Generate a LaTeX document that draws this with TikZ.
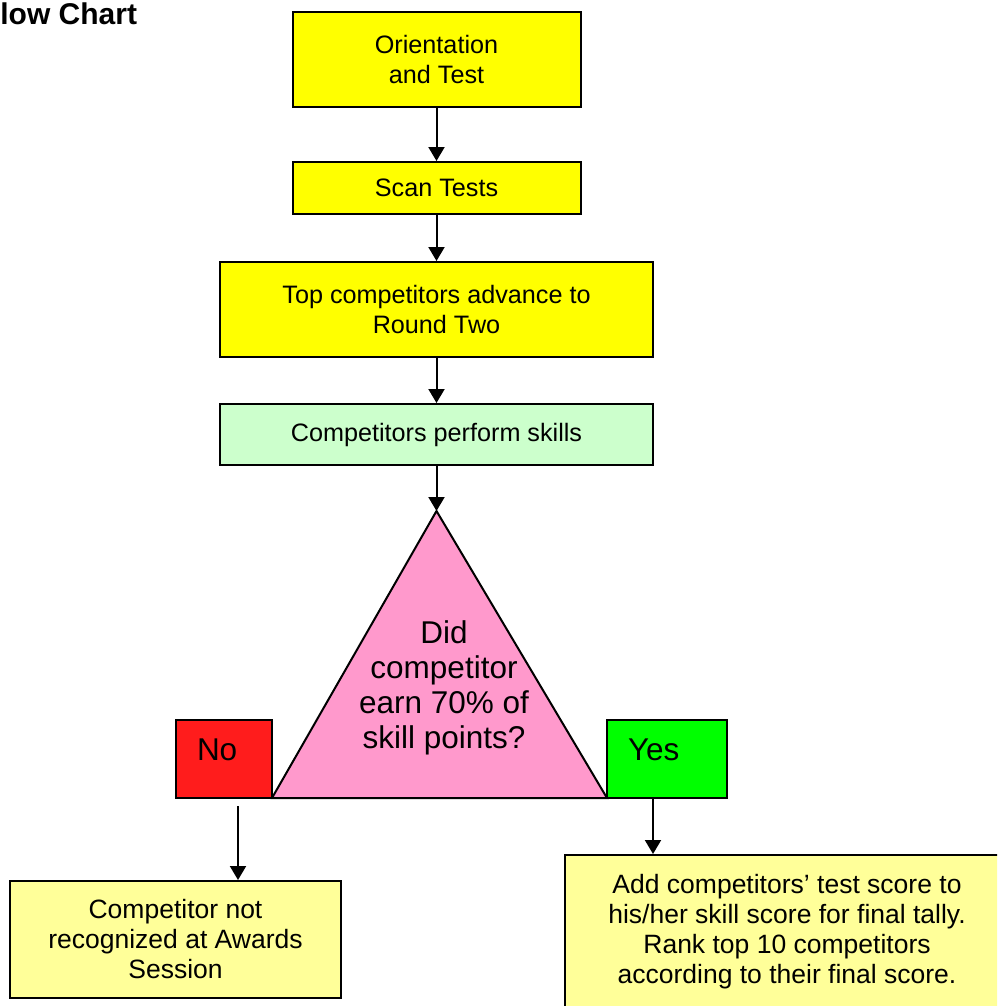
\documentclass[tikz,border=0pt]{standalone}
\usepackage{fontspec}
\setmainfont{Liberation Sans}
\usetikzlibrary{arrows.meta,positioning}
\definecolor{stepyellow}{RGB}{255,255,0}
\definecolor{skillgreen}{RGB}{204,255,204}
\definecolor{askpink}{RGB}{255,153,204}
\definecolor{nored}{RGB}{255,28,28}
\definecolor{yesgreen}{RGB}{0,255,0}
\definecolor{tallyyellow}{RGB}{255,255,153}
\tikzstyle{stepbox}=[draw=black,line width=1pt,rectangle,align=center,inner sep=2pt,font=\fontsize{12.6pt}{15pt}\selectfont]
\tikzstyle{answerbox}=[draw=black,line width=1pt,rectangle,align=left,inner xsep=10.5pt,inner ysep=2pt,text height=18.25pt,text depth=16.75pt,font=\fontsize{15.75pt}{17.5pt}\selectfont]
\tikzstyle{tallybox}=[draw=black,line width=1pt,rectangle,align=center,fill=tallyyellow,font=\fontsize{13.25pt}{15pt}\selectfont]

\begin{document}
\begin{tikzpicture}[x=0.5pt,y=-0.5pt,on grid,>={Triangle[width=8pt,length=7pt]}]
	\useasboundingbox (0,0) rectangle (997,1006);
	\clip (0,0) rectangle (997,1006);

	\node[anchor=base west,inner sep=0pt,font=\fontsize{15pt}{18pt}\selectfont\bfseries] (title) at (0,25) {low Chart};

	\node[stepbox,fill=stepyellow,minimum width=144pt,minimum height=47.5pt] (orient) at (436.5,59.5) {Orientation\\and Test};
	\node[stepbox,fill=stepyellow,minimum width=144pt,minimum height=26pt] (scan) [below=64.25pt of orient] {Scan Tests};
	\node[stepbox,fill=stepyellow,minimum width=216.5pt,minimum height=47.5pt] (advance) [below=60.75pt of scan] {Top competitors advance to\\Round Two};
	\node[stepbox,fill=skillgreen,minimum width=216.5pt,minimum height=30.5pt] (skills) [below=62.5pt of advance] {Competitors perform skills};

	% decision triangle
	\coordinate (apex) at (436.5,511);
	\draw[line width=1pt,fill=askpink] (apex) -- (607,798) -- (272,798) -- cycle;
	\node[align=center,font=\fontsize{15.75pt}{17.6pt}\selectfont] (ask) at (444,688) {Did\\competitor\\earn 70\% of\\skill points?};

	\node[answerbox,fill=nored,text width=27pt] (no) at (224,759) {No};
	\node[answerbox,fill=yesgreen,text width=39pt] (yes) at (667,759) {Yes};

	\node[tallybox,minimum width=165.5pt,minimum height=58.5pt] (notally) at (175.5,939.5) {Competitor not\\recognized at Awards\\Session};
	\node[tallybox,minimum width=222pt,minimum height=76.5pt] (yestally) at (787,931.5) {Add competitors’ test score to\\his/her skill score for final tally.\\Rank top 10 competitors\\according to their final score.};

	\coordinate (nofoot) at (238,806);
	\coordinate (yesfoot) at (653,798);

\path[->,line width=1pt] (orient) edge (scan)
			(scan) edge (advance)
			(advance) edge (skills)
			(skills.south) edge (apex)
			(nofoot) edge (nofoot |- notally.north)
			(yesfoot) edge (yesfoot |- yestally.north);
\end{tikzpicture}
\end{document}
